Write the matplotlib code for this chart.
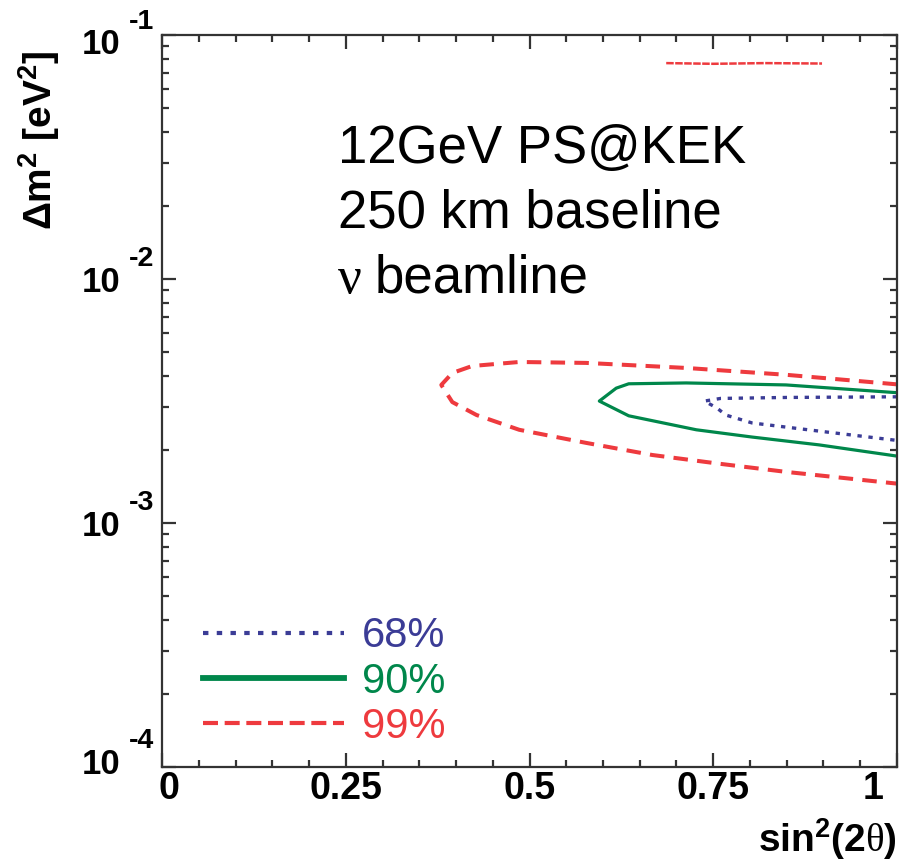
import numpy as np
import matplotlib
matplotlib.use("Agg")
import matplotlib.pyplot as plt
from matplotlib.lines import Line2D
from matplotlib.transforms import ScaledTranslation

plt.rcParams['font.family'] = ['Liberation Sans', 'DejaVu Sans']
plt.rcParams['mathtext.fontset'] = 'custom'
plt.rcParams['mathtext.bf'] = 'Liberation Sans:bold'
plt.rcParams['mathtext.rm'] = 'Liberation Serif'
plt.rcParams['mathtext.it'] = 'Liberation Sans:italic'

# contours: sin^2(2theta), dm^2 [eV^2]
x68 = [1.0, 0.85, 0.76, 0.738, 0.755, 0.767, 0.803, 0.894, 1.0]
y68 = [3.29e-3, 3.27e-3, 3.24e-3, 3.16e-3, 2.96e-3, 2.77e-3, 2.57e-3, 2.38e-3, 2.18e-3]

x90 = [1.0, 0.849, 0.713, 0.635, 0.618, 0.595, 0.635, 0.727, 0.803, 0.894, 1.0]
y90 = [3.42e-3, 3.68e-3, 3.75e-3, 3.72e-3, 3.57e-3, 3.16e-3, 2.75e-3, 2.41e-3, 2.25e-3, 2.09e-3, 1.88e-3]

x99 = [1.0, 0.849, 0.713, 0.577, 0.486, 0.422, 0.395, 0.380, 0.395, 0.428, 0.486,
       0.577, 0.667, 0.758, 0.849, 1.0]
y99 = [3.70e-3, 4.05e-3, 4.32e-3, 4.53e-3, 4.57e-3, 4.40e-3, 4.12e-3, 3.68e-3, 3.13e-3,
       2.77e-3, 2.41e-3, 2.13e-3, 1.90e-3, 1.75e-3, 1.62e-3, 1.45e-3]

# small 99% island near the top
x99b = [0.686, 0.75, 0.82, 0.898]
y99b = [7.67e-2, 7.62e-2, 7.67e-2, 7.64e-2]

labels = ['68%', '90%', '99%']
colors = ['#3b3c96', '#00874b', '#ee3a3e']
xticks = [0, 0.25, 0.5, 0.75, 1]
xticklabels = ['0', '0.25', '0.5', '0.75', '1']
decades = [1e-1, 1e-2, 1e-3, 1e-4]

dotted = (0, (1.3, 2.0))
dashed = (0, (3.6, 2.3))

fig = plt.figure(figsize=(9.03, 8.65), dpi=100)
ax = fig.add_axes([162 / 903, 98 / 865, (897 - 162) / 903, (767 - 35) / 865])

ax.plot(x99, y99, color=colors[2], ls=dashed, lw=2.9)
ax.plot(x99b, y99b, color=colors[2], ls=(0, (3, 0.6)), lw=1.8)
ax.plot(x90, y90, color=colors[1], ls='-', lw=2.3)
ax.plot(x68, y68, color=colors[0], ls=dotted, lw=2.4)

ax.set_yscale('log')
ax.set_xlim(0, 1.0)
ax.set_ylim(1e-4, 1e-1)

for s in ax.spines.values():
    s.set_linewidth(1.6)
    s.set_color('#333333')

ax.set_xticks(xticks)
ax.set_xticklabels(xticklabels, fontsize=27, fontweight='bold')
ax.xaxis.set_minor_locator(matplotlib.ticker.MultipleLocator(0.05))
ax.yaxis.set_major_locator(matplotlib.ticker.LogLocator(base=10, numticks=10))
ax.yaxis.set_minor_locator(matplotlib.ticker.LogLocator(base=10, subs=np.arange(2, 10), numticks=10))
ax.yaxis.set_major_formatter(matplotlib.ticker.NullFormatter())
ax.yaxis.set_minor_formatter(matplotlib.ticker.NullFormatter())
ax.tick_params(which='both', direction='in', top=True, right=True, color='#333333', width=1.6)
ax.tick_params(which='major', length=10, pad=3)
ax.tick_params(which='minor', length=5)

# nudge the end labels inward like the original
xl = ax.get_xticklabels()
xl[0].set_transform(xl[0].get_transform() + ScaledTranslation(7 / 100, 0, fig.dpi_scale_trans))
xl[-1].set_transform(xl[-1].get_transform() + ScaledTranslation(-24 / 100, 0, fig.dpi_scale_trans))

# y tick labels: 10 with a large exponent
yshift = [-7, 0, 0, 6]
for v, dy in zip(decades, yshift):
    e = int(round(np.log10(v)))
    ax.annotate('10', xy=(0, v), xycoords=('axes fraction', 'data'),
                xytext=(-30.2, -9 + dy * 0.72), textcoords='offset points',
                ha='right', va='baseline', fontsize=25, fontweight='bold', annotation_clip=False)
    ax.annotate('-%d' % -e, xy=(0, v), xycoords=('axes fraction', 'data'),
                xytext=(-23.5, 9.5 + dy * 0.72), textcoords='offset points',
                ha='left', va='baseline', fontsize=20.5, fontweight='bold', annotation_clip=False)

ax.set_xlabel(r'$\mathbf{sin^{2}(2}\mathrm{\theta}\mathbf{)}$', fontsize=28, ha='right', va='baseline')
ax.xaxis.set_label_coords(1.0, (767 - 852) / 732)
ax.set_ylabel(r'$\mathbf{\Delta m^{2}\ [eV^{2}]}$', fontsize=28, ha='right', va='bottom')
ax.yaxis.set_label_coords((62 - 162) / 735, (767 - 50) / 732)

# annotation text
ax.text((338 - 162) / 735, (767 - 163) / 732, '12GeV PS@KEK', transform=ax.transAxes,
        fontsize=38, va='baseline', ha='left')
ax.text((338 - 162) / 735, (767 - 228) / 732, '250 km baseline', transform=ax.transAxes,
        fontsize=38, va='baseline', ha='left')
ax.text((338 - 162) / 735, (767 - 293) / 732, 'ν', transform=ax.transAxes,
        fontsize=38, va='baseline', ha='left', family='Liberation Serif')
ax.text((375 - 162) / 735, (767 - 293) / 732, 'beamline', transform=ax.transAxes,
        fontsize=38, va='baseline', ha='left')

handles = [Line2D([], [], color=colors[0], ls=dotted, lw=3.0),
           Line2D([], [], color=colors[1], ls='-', lw=4.2),
           Line2D([], [], color=colors[2], ls=(0, (3.6, 1.6)), lw=3.0)]
leg = ax.legend(handles, labels, loc='lower left', bbox_to_anchor=((203 - 162) / 735, 20 / 732),
                frameon=False, fontsize=30, labelcolor=colors, handlelength=3.38,
                handletextpad=0.43, labelspacing=0.13, borderpad=0, borderaxespad=0)

fig.savefig('out.png', dpi=100)
